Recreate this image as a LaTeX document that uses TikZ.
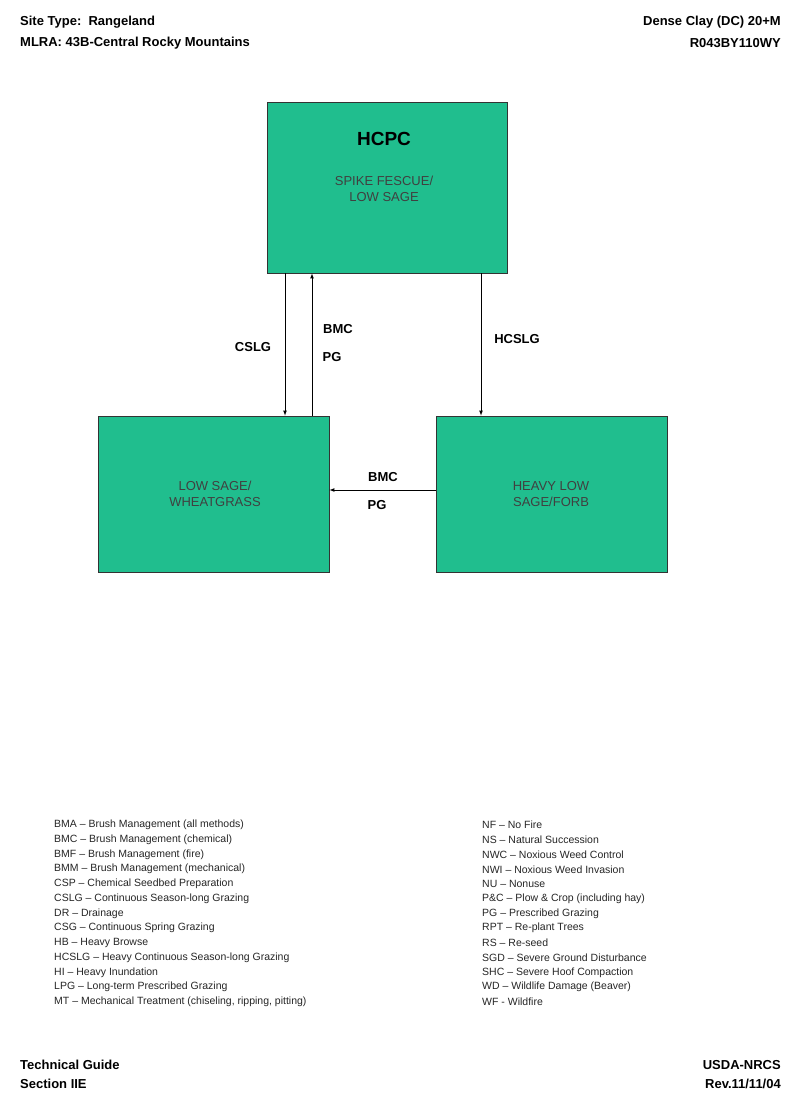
\documentclass[tikz,border=0pt]{standalone}
\usepackage{fontspec}
\setmainfont{Liberation Sans}
\definecolor{boxg}{RGB}{32,190,142}
\begin{document}
\begin{tikzpicture}[x=1pt,y=-1pt,
 st/.style={draw=black!80,fill=boxg,line width=0.8pt},
 lab/.style={font=\fontsize{13}{15}\selectfont\bfseries,inner sep=0},
 hd/.style={font=\fontsize{13}{15}\selectfont\bfseries,inner sep=0},
 inb/.style={font=\fontsize{13}{16}\selectfont,text=black!75,align=center,inner sep=0},
 lg/.style={font=\fontsize{10.5}{12}\selectfont,anchor=west,inner sep=0,text=black!85},
 arr/.style={-latex,line width=0.7pt}]
\useasboundingbox (0,0) rectangle (800,1108);
\fill[white] (0,0) rectangle (800,1108);
\node[hd,anchor=west] (h1) at (20,22) {Site Type:\ \ Rangeland};
\node[hd,anchor=west] (h2) at (20,43) {MLRA: 43B-Central Rocky Mountains};
\node[hd,anchor=east] (h3) at (781,22) {Dense Clay (DC) 20+M};
\node[hd,anchor=east] (h4) at (781,43) {R043BY110WY};
\node[st,minimum width=240,minimum height=171,inner sep=0] (top) at (387,187.5) {};
\node[font=\fontsize{19}{22}\selectfont\bfseries,inner sep=0] (hcpc) at (384,139) {HCPC};
\node[inb] (tt) at (384,189) {SPIKE FESCUE/\\LOW SAGE};
\node[st,minimum width=231,minimum height=156,inner sep=0] (left) at (213.5,494) {};
\node[inb] (lt) at (215,494) {LOW SAGE/\\WHEATGRASS};
\node[st,minimum width=231,minimum height=156,inner sep=0] (right) at (551.5,494) {};
\node[inb] (rt) at (551,494) {HEAVY LOW\\SAGE/FORB};
\draw[arr] (top.south -| 285,0) -- (left.north -| 285,0);
\draw[arr] (left.north -| 312,0) -- (top.south -| 312,0);
\draw[arr] (top.south -| 481,0) -- (right.north -| 481,0);
\draw[arr] (right.west |- 0,490) -- (left.east |- 0,490);
\node[lab] (l1) at (253,347) {CSLG};
\node[lab] (l2) at (338,329) {BMC};
\node[lab] (l3) at (332,357) {PG};
\node[lab] (l4) at (517,339) {HCSLG};
\node[lab] (l5) at (383,477) {BMC};
\node[lab] (l6) at (377,505) {PG};
\foreach \t [count=\i] in {BMA -- Brush Management (all methods),BMC -- Brush Management (chemical),BMF -- Brush Management (fire),BMM -- Brush Management (mechanical),CSP -- Chemical Seedbed Preparation,CSLG -- Continuous Season-long Grazing,DR -- Drainage,CSG -- Continuous Spring Grazing,HB -- Heavy Browse,HCSLG -- Heavy Continuous Season-long Grazing,HI -- Heavy Inundation,LPG -- Long-term Prescribed Grazing,{MT -- Mechanical Treatment (chiseling, ripping, pitting)}}
  \node[lg] (a\i) at (54,{825+(\i-1)*14.75}) {\t};
\foreach \t [count=\i] in {NF -- No Fire,NS -- Natural Succession,NWC -- Noxious Weed Control,NWI -- Noxious Weed Invasion,NU -- Nonuse,P\&C -- Plow \& Crop (including hay),PG -- Prescribed Grazing,RPT -- Re-plant Trees,RS -- Re-seed,SGD -- Severe Ground Disturbance,SHC -- Severe Hoof Compaction,WD -- Wildlife Damage (Beaver),WF - Wildfire}
  \node[lg] (b\i) at (482,{825+(\i-1)*14.75}) {\t};
\node[hd,anchor=west] (f1) at (20,1065) {Technical Guide};
\node[hd,anchor=west] (f2) at (20,1084) {Section IIE};
\node[hd,anchor=east] (f3) at (781,1065) {USDA-NRCS};
\node[hd,anchor=east] (f4) at (781,1084) {Rev.11/11/04};
\end{tikzpicture}
\end{document}
